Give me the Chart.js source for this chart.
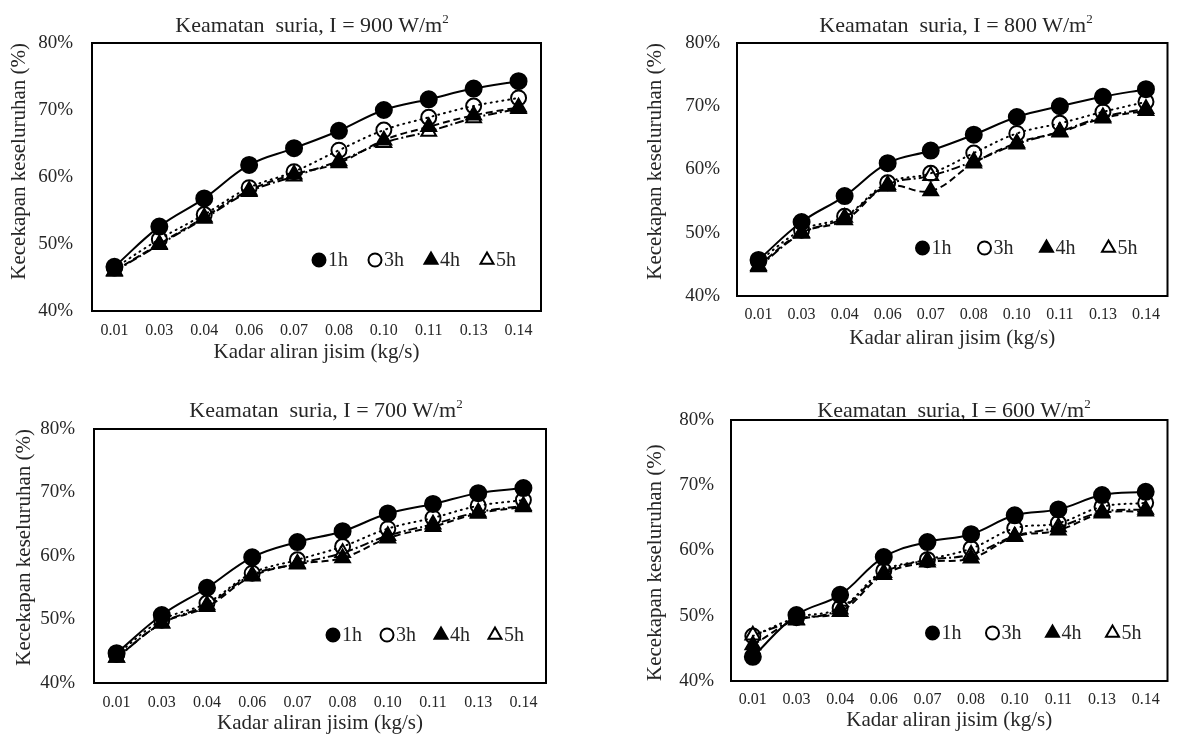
<!DOCTYPE html>
<html>
<head>
<meta charset="utf-8">
<title>Kecekapan keseluruhan</title>
<script src="https://cdn.jsdelivr.net/npm/chart.js@4.4.1/dist/chart.umd.min.js"></script>
<style>
  body { margin: 0; background: #fff; }
  #page { position: relative; width: 1178px; height: 736px; overflow: hidden; font-family: "Liberation Serif", "Times New Roman", serif; color: #262626; }
  #page canvas { position: absolute; }
  .ptitle { position: absolute; transform: translate(-50%, -50%); white-space: pre; font-size: 22px; line-height: 1; }
  .ptitle sup { font-size: 13px; vertical-align: 9px; line-height: 0; }
</style>
</head>
<body>
<div id="page"></div>
<script>
// mass flow rate categories (kg/s)
const flowRates = ['0.01', '0.03', '0.04', '0.06', '0.07', '0.08', '0.10', '0.11', '0.13', '0.14'];
const hours = ['1h', '3h', '4h', '5h'];
const irradiance = [900, 800, 700, 600];

// overall efficiency (%)
const eff900_1h = [46.6, 52.6, 56.8, 61.8, 64.3, 66.9, 70.0, 71.6, 73.2, 74.3];
const eff900_3h = [46.4, 50.7, 54.4, 58.4, 60.8, 64.0, 67.0, 68.9, 70.6, 71.8];
const eff900_4h = [46.0, 50.0, 54.0, 58.0, 60.4, 62.1, 65.5, 67.5, 69.2, 70.4];
const eff900_5h = [45.9, 49.9, 53.8, 57.8, 60.1, 62.4, 65.1, 66.8, 68.8, 70.2];

const eff800_1h = [45.7, 51.7, 55.8, 61.0, 63.0, 65.5, 68.3, 70.0, 71.5, 72.7];
const eff800_3h = [45.5, 50.4, 52.6, 57.9, 59.4, 62.6, 65.7, 67.3, 69.1, 70.7];
const eff800_4h = [44.8, 50.0, 52.0, 57.3, 56.6, 61.0, 64.2, 65.9, 68.1, 69.3];
const eff800_5h = [44.6, 49.9, 52.4, 57.6, 59.0, 61.3, 64.0, 66.0, 68.3, 69.6];

const eff700_1h = [44.7, 50.7, 55.0, 59.8, 62.2, 63.9, 66.7, 68.2, 69.9, 70.7];
const eff700_3h = [44.5, 49.9, 52.6, 57.3, 59.4, 61.5, 64.3, 66.0, 67.9, 68.8];
const eff700_4h = [44.0, 49.4, 52.0, 56.8, 58.7, 59.7, 62.8, 64.6, 66.7, 67.7];
const eff700_5h = [44.0, 49.4, 52.3, 57.0, 58.8, 60.5, 63.2, 65.0, 66.9, 67.9];

const eff600_1h = [43.7, 50.1, 53.2, 59.0, 61.3, 62.5, 65.4, 66.3, 68.5, 69.0];
const eff600_3h = [46.9, 49.7, 51.2, 56.9, 58.6, 60.3, 63.4, 64.2, 66.7, 67.3];
const eff600_4h = [45.5, 49.4, 50.6, 56.3, 58.2, 58.8, 62.1, 63.1, 65.7, 66.0];
const eff600_5h = [47.0, 49.3, 51.0, 56.6, 58.5, 59.4, 62.2, 63.6, 65.9, 66.3];

const yTicks = [40, 50, 60, 70, 80];

const FONT = '"Liberation Serif", "Times New Roman", serif';
const INK = '#262626';

// marker + line look per series (1h, 3h, 4h, 5h)
const looks = [
  { pointStyle: 'circle', radius: 8, fill: '#000', dash: [], cap: 'butt' },
  { pointStyle: 'circle', radius: 7.5, fill: 'rgba(255,255,255,0)', dash: [1, 5], cap: 'round' },
  { pointStyle: 'triangle', radius: 8.5, fill: '#000', dash: [7, 4], cap: 'butt' },
  { pointStyle: 'triangle', radius: 8.5, fill: '#fff', dash: [9, 3, 2, 3], cap: 'butt' },
];

// canvas box, plot-area box and text offsets for each panel
const panels = [
  { series: [eff900_1h, eff900_3h, eff900_4h, eff900_5h], canvas: [0, 0, 590, 368], area: [92, 43, 541, 311],
    titleAt: [312, 25], yTitlePad: 7, yTitleAlign: 'end', yTickPad: 19, xTickPad: 10, xTitlePad: 3, legend: { right: 54, up: 51, step: 56 } },
  { series: [eff800_1h, eff800_3h, eff800_4h, eff800_5h], canvas: [630, 0, 548, 368], area: [737, 43, 1176, 296],
    titleAt: [956, 25], yTitlePad: 13, yTitleAlign: 'end', yTickPad: 17, xTickPad: 9, xTitlePad: 17, legend: { right: 59, up: 48, step: 62 } },
  { series: [eff700_1h, eff700_3h, eff700_4h, eff700_5h], canvas: [0, 368, 590, 368], area: [94, 429, 546, 683],
    titleAt: [326, 410], yTitlePad: 12, yTitleAlign: 'end', yTickPad: 19, xTickPad: 10, xTitlePad: 0, legend: { right: 51, up: 48, step: 54 } },
  { series: [eff600_1h, eff600_3h, eff600_4h, eff600_5h], canvas: [630, 368, 548, 368], area: [731, 420, 1176, 681],
    titleAt: [954, 410], yTitlePad: 13, yTitleAlign: 'start', yTickPad: 17, xTickPad: 9, xTitlePad: 3, legend: { right: 55, up: 48, step: 60 } },
];

function drawMarker(ctx, look, x, y, r) {
  ctx.save();
  ctx.lineWidth = 2;
  ctx.strokeStyle = '#000';
  ctx.fillStyle = look.fill;
  ctx.beginPath();
  if (look.pointStyle === 'circle') {
    ctx.arc(x, y, r, 0, Math.PI * 2);
  } else {
    ctx.moveTo(x, y - r);
    ctx.lineTo(x + r * 0.866, y + r * 0.5);
    ctx.lineTo(x - r * 0.866, y + r * 0.5);
    ctx.closePath();
  }
  ctx.fill();
  ctx.stroke();
  ctx.restore();
}

const framePlugin = {
  id: 'frame',
  afterDraw(chart) {
    const { ctx, chartArea: a } = chart;
    ctx.save();
    ctx.lineWidth = 2;
    ctx.strokeStyle = '#000';
    ctx.strokeRect(a.left, a.top, a.right - a.left, a.bottom - a.top);
    ctx.restore();
  },
};

const insideLegend = {
  id: 'insideLegend',
  afterDraw(chart, args, opts) {
    const { ctx, chartArea: a } = chart;
    const n = chart.data.datasets.length;
    const y = a.bottom - opts.up;
    ctx.save();
    ctx.font = '20px ' + FONT;
    ctx.fillStyle = INK;
    ctx.textBaseline = 'middle';
    chart.data.datasets.forEach((ds, i) => {
      const x = a.right - opts.right - (n - 1 - i) * opts.step;
      drawMarker(ctx, looks[i], x, y, looks[i].pointStyle === 'circle' ? 6.5 : 7.5);
      ctx.fillText(ds.label, x + 9, y + 1);
    });
    ctx.restore();
  },
};

const page = document.getElementById('page');

panels.forEach((p, k) => {
  const [cx, cy, cw, ch] = p.canvas;
  const [l, t, r, b] = p.area;

  const title = document.createElement('div');
  title.className = 'ptitle';
  title.style.left = p.titleAt[0] + 'px';
  title.style.top = p.titleAt[1] + 'px';
  title.innerHTML = 'Keamatan  suria, I = ' + irradiance[k] + ' W/m<sup>2</sup>';

  const canvas = document.createElement('canvas');
  canvas.width = cw;
  canvas.height = ch;
  canvas.style.left = cx + 'px';
  canvas.style.top = cy + 'px';
  page.appendChild(canvas);
  page.appendChild(title);

  new Chart(canvas, {
    type: 'line',
    data: {
      labels: flowRates,
      datasets: p.series.map((values, i) => ({
        label: hours[i],
        data: values,
        borderColor: '#000',
        borderWidth: 2,
        borderDash: looks[i].dash,
        borderCapStyle: looks[i].cap,
        tension: 0.4,
        pointStyle: looks[i].pointStyle,
        pointRadius: looks[i].radius,
        pointBackgroundColor: looks[i].fill,
        pointBorderColor: '#000',
        pointBorderWidth: 2,
        fill: false,
      })),
    },
    options: {
      responsive: false,
      animation: false,
      events: [],
      layout: { padding: { left: 0, top: t - cy, right: cx + cw - r, bottom: 0 } },
      plugins: {
        legend: { display: false },
        tooltip: { enabled: false },
        insideLegend: p.legend,
      },
      scales: {
        x: {
          offset: true,
          grid: { display: false, drawTicks: false },
          border: { display: false },
          ticks: { color: INK, font: { family: FONT, size: 16 }, padding: p.xTickPad, maxRotation: 0, autoSkip: false },
          title: { display: true, text: 'Kadar aliran jisim (kg/s)', color: INK, font: { family: FONT, size: 21 }, padding: { top: 0, bottom: p.xTitlePad } },
          afterFit: (s) => { s.height = cy + ch - b; },
        },
        y: {
          min: yTicks[0],
          max: yTicks[yTicks.length - 1],
          afterBuildTicks: (s) => { s.ticks = yTicks.map((v) => ({ value: v })); },
          grid: { display: false, drawTicks: false },
          border: { display: false },
          ticks: { color: INK, font: { family: FONT, size: 19 }, padding: p.yTickPad, callback: (v) => v + '%' },
          title: { display: true, text: 'Kecekapan keseluruhan (%)', align: p.yTitleAlign, color: INK, font: { family: FONT, size: 21 }, padding: { top: p.yTitlePad, bottom: 0 } },
          afterFit: (s) => { s.width = l - cx; },
        },
      },
    },
    plugins: [framePlugin, insideLegend],
  });
});
</script>
</body>
</html>
